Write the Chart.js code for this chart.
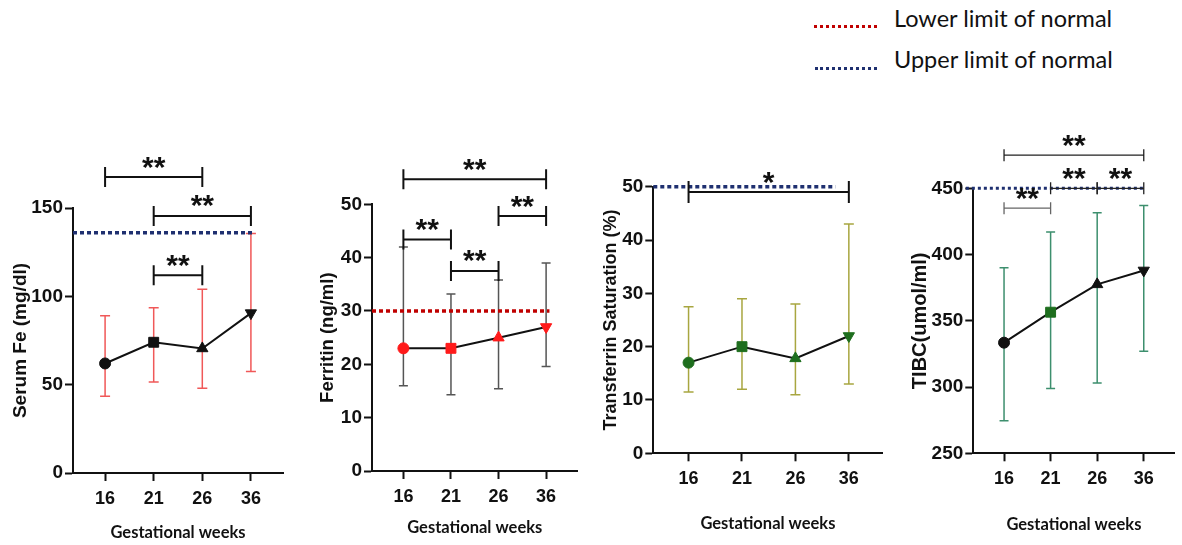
<!DOCTYPE html>
<html><head><meta charset="utf-8">
<script src="https://cdn.jsdelivr.net/npm/chart.js@4.4.0/dist/chart.umd.min.js"></script>
<style>
html,body{margin:0;padding:0;background:#fff;width:1182px;height:545px;overflow:hidden;position:relative}
canvas{position:absolute}
.leg{position:absolute;font-family:Lato,'Open Sans',sans-serif;font-size:23.5px;color:#111;line-height:24px;white-space:nowrap}
.legline{position:absolute;height:0;border-top:3px dotted}
</style></head><body>
<div class="legline" style="left:814px;top:25px;width:63px;border-color:#c00000"></div>
<div class="leg" style="left:894px;top:6px">Lower limit of normal</div>
<div class="legline" style="left:815px;top:67px;width:62px;border-color:#1f3070"></div>
<div class="leg" style="left:894px;top:47px">Upper limit of normal</div>
<canvas id="c1" width="300" height="415" style="left:0px;top:130px"></canvas>
<canvas id="c2" width="295" height="415" style="left:290px;top:130px"></canvas>
<canvas id="c3" width="300" height="415" style="left:590px;top:130px"></canvas>
<canvas id="c4" width="297" height="435" style="left:885px;top:110px"></canvas>
<script>
// ---------- data ----------
const weeks = ['16', '21', '26', '36'];

const feMean = [62, 74, 70.5, 90.5];
const feLow  = [43.5, 51.5, 48, 57.5];
const feHigh = [89, 93.5, 104, 135.5];
const feUpperLimit = 136;
const feSig = [[0, 2, 167.5, '**'], [1, 3, 145.5, '**'], [1, 2, 112, '**']];

const ferMean = [23, 23, 25, 27];
const ferLow  = [16, 14.3, 15.4, 19.6];
const ferHigh = [42, 33.2, 35.8, 39];
const ferLowerLimit = 30;
const ferSig = [[0, 3, 54.7, '**'], [2, 3, 47.8, '**'], [0, 1, 43.4, '**'], [1, 2, 37.5, '**']];

const tsatMean = [17, 20, 17.8, 22];
const tsatLow  = [11.5, 12, 11, 13];
const tsatHigh = [27.5, 29, 28, 43];
const tsatUpperLimit = 50;
const tsatSig = [[0, 3, 49, '*']];

const tibcMean = [333.5, 356.5, 377.5, 388];
const tibcLow  = [274.5, 299, 303, 327];
const tibcHigh = [390, 417, 431.5, 437];
const tibcUpperLimit = 450;
const tibcSig = [[0, 3, 475, '**'], [1, 2, 450, '**'], [2, 3, 450, '**'], [0, 1, 435, '**']];

// ---------- styles ----------
const NAVY = '#1f3070', DARKRED = '#c00000';
const TICKFONT = "'Liberation Sans Narrow', 'Liberation Sans', Arial, sans-serif";
const TITLEFONT = "'Liberation Sans', Arial, sans-serif";
const XTITLEFONT = "Lato, 'Liberation Sans', sans-serif";
const SHAPES = ['circle', 'rect', 'triangle', 'triangle'];
const ROT = [0, 0, 0, 180];
const RAD = [5.5, 7, 6.5, 6.5];

function deco(c) {
  return {
    id: 'deco',
    beforeDatasetsDraw(chart) {
      const {ctx, scales: {x, y}} = chart;
      ctx.save();
      ctx.strokeStyle = c.errColor; ctx.lineWidth = c.errWidth;
      c.low.forEach((lo, i) => {
        const px = x.getPixelForValue(i), pt = y.getPixelForValue(c.high[i]), pb = y.getPixelForValue(lo);
        ctx.beginPath();
        ctx.moveTo(px, pt); ctx.lineTo(px, pb);
        ctx.moveTo(px - c.cap, pt); ctx.lineTo(px + c.cap, pt);
        ctx.moveTo(px - c.cap, pb); ctx.lineTo(px + c.cap, pb);
        ctx.stroke();
      });
      ctx.restore();
    },
    afterDraw(chart) {
      const {ctx, scales: {x, y}} = chart;
      ctx.save();
      // limit line
      const ly = y.getPixelForValue(c.limit.value);
      ctx.strokeStyle = c.limit.color; ctx.lineWidth = c.limit.width;
      ctx.setLineDash(c.limit.dash);
      ctx.beginPath();
      ctx.moveTo(x.getPixelForValue(c.limit.from), ly);
      ctx.lineTo(x.getPixelForValue(c.limit.to), ly);
      ctx.stroke();
      ctx.setLineDash([]);
      // significance brackets
      c.sig.forEach((s, k) => {
        const x1 = x.getPixelForValue(s[0]), x2 = x.getPixelForValue(s[1]), by = y.getPixelForValue(s[2]);
        ctx.strokeStyle = (c.sigColors && c.sigColors[k]) || '#111';
        ctx.lineWidth = c.sigWidth;
        ctx.beginPath();
        ctx.moveTo(x1, by - c.tick); ctx.lineTo(x1, by + c.tick);
        ctx.moveTo(x1, by); ctx.lineTo(x2, by);
        ctx.moveTo(x2, by - c.tick); ctx.lineTo(x2, by + c.tick);
        ctx.stroke();
        ctx.fillStyle = '#111';
        ctx.font = "bold 30px 'Liberation Sans', Arial, sans-serif";
        ctx.textAlign = 'center'; ctx.textBaseline = 'alphabetic';
        ctx.fillText(s[3], (x1 + x2) / 2, by - 0.5);
      });
      ctx.restore();
    }
  };
}

function makePanel(id, c) {
  new Chart(document.getElementById(id), {
    type: 'line',
    data: {
      datasets: [{
        data: c.mean.map((v, i) => ({x: i, y: v})),
        borderColor: '#111', borderWidth: 2, tension: 0,
        pointStyle: SHAPES, pointRotation: ROT, pointRadius: RAD,
        pointBackgroundColor: c.markerColors, pointBorderColor: c.markerColors, pointBorderWidth: 1
      }]
    },
    options: {
      responsive: false, animation: false, devicePixelRatio: 1,
      layout: {padding: {top: c.padTop, right: c.padRight, left: 0, bottom: 0}},
      plugins: {legend: {display: false}, tooltip: {enabled: false}},
      scales: {
        x: {
          type: 'linear', min: -0.66, max: c.xMax,
          afterBuildTicks: s => { s.ticks = weeks.map((w, i) => ({value: i})); },
          afterFit: s => { s.height = c.xH; },
          ticks: {callback: v => weeks[v], font: {family: TICKFONT, size: 18, weight: 'bold'}, color: '#111', padding: 7, maxRotation: 0, autoSkip: false},
          grid: {drawOnChartArea: false, tickLength: 8, tickWidth: 2, tickColor: '#111'},
          border: {color: '#111', width: 2},
          title: {display: true, text: 'Gestational weeks', color: '#111',
                  font: {family: XTITLEFONT, size: 16.5, weight: 'bold'}, padding: {top: 0, bottom: c.xTitlePad}}
        },
        y: {
          min: c.yMin, max: c.yMax,
          afterFit: s => { s.width = c.yW; },
          ticks: {stepSize: c.yStep, font: {family: TICKFONT, size: 19, weight: 'bold'}, color: '#111', padding: 2},
          grid: {drawOnChartArea: false, tickLength: 8, tickWidth: 2, tickColor: '#111'},
          border: {color: '#111', width: 2},
          title: {display: true, text: c.yTitle, color: '#111',
                  font: {family: TITLEFONT, size: c.yTitleSize, weight: 'bold'}, padding: {top: c.yTitlePad, bottom: 0}}
        }
      }
    },
    plugins: [deco(c)]
  });
}

makePanel('c1', {
  mean: feMean, low: feLow, high: feHigh, markerColors: '#111',
  errColor: '#f05858', errWidth: 1.5, cap: 5,
  limit: {value: feUpperLimit, from: -0.66, to: 3.08, color: NAVY, width: 3.5, dash: [4, 3]},
  sig: feSig, sigWidth: 2, tick: 10,
  yMin: 0, yMax: 150, yStep: 50, yTitle: 'Serum Fe (mg/dl)', yTitleSize: 19, yTitlePad: 9,
  padTop: 78, padRight: 17, yW: 73, xH: 72, xTitlePad: 2.4, xMax: 3.66
});
makePanel('c2', {
  mean: ferMean, low: ferLow, high: ferHigh, markerColors: '#ff1a1a',
  errColor: '#555555', errWidth: 1.5, cap: 4.5,
  limit: {value: ferLowerLimit, from: -0.66, to: 3.07, color: DARKRED, width: 3.5, dash: [4, 3]},
  sig: ferSig, sigWidth: 2, tick: 10,
  yMin: 0, yMax: 50, yStep: 10, yTitle: 'Ferritin (ng/ml)', yTitleSize: 18.5, yTitlePad: 27,
  padTop: 74.3, padRight: 4, yW: 82, xH: 74, xTitlePad: 7.4, xMax: 3.66
});
makePanel('c3', {
  mean: tsatMean, low: tsatLow, high: tsatHigh, markerColors: '#1e6e1e',
  errColor: '#a8a640', errWidth: 1.5, cap: 5,
  limit: {value: tsatUpperLimit, from: -0.66, to: 2.75, color: NAVY, width: 3.5, dash: [4, 3]},
  sig: tsatSig, sigWidth: 2, tick: 11,
  yMin: 0, yMax: 50, yStep: 10, yTitle: 'Transferrin Saturation (%)', yTitleSize: 18, yTitlePad: 10,
  padTop: 56.7, padRight: 2, yW: 63.3, xH: 91.7, xTitlePad: 11.4, xMax: 3.63
});
makePanel('c4', {
  mean: tibcMean, low: tibcLow, high: tibcHigh, markerColors: ['#111', '#1e6e1e', '#111', '#111'],
  errColor: '#3d8f6e', errWidth: 1.5, cap: 4.5,
  limit: {value: tibcUpperLimit, from: -0.82, to: 3.0, color: NAVY, width: 3, dash: [3, 3]},
  sig: tibcSig, sigWidth: 1.3, tick: 6, sigColors: ['#222', '#222', '#222', '#666'],
  yMin: 250, yMax: 450, yStep: 50, yTitle: 'TIBC(umol/ml)', yTitleSize: 20, yTitlePad: 23,
  padTop: 78.3, padRight: 0, yW: 88.3, xH: 91.7, xTitlePad: 10.4, xMax: 3.66
});
</script>
</body></html>
